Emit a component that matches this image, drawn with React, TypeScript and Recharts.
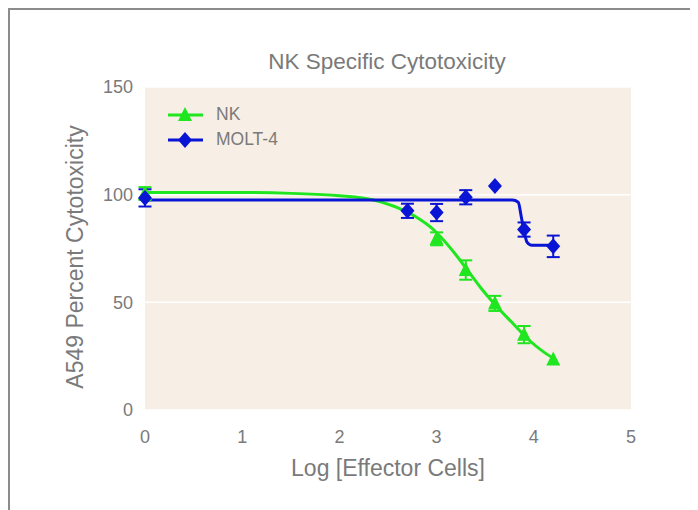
import React from "react";
import { ComposedChart, Line, Scatter, ErrorBar, XAxis, YAxis, CartesianGrid } from "recharts";

// Measured points (log effector cells, % cytotoxicity, error)
const nkPoints = [
  { x: 0, y: 100.5, err: 3 },
  { x: 3.0, y: 79.5, err: 3 },
  { x: 3.3, y: 65, err: 4.5 },
  { x: 3.6, y: 49.5, err: 3.5 },
  { x: 3.9, y: 35, err: 4 },
  { x: 4.2, y: 23.5, err: 0 },
];
const moltPoints = [
  { x: 0, y: 98.5, err: 4 },
  { x: 2.7, y: 92.5, err: 3.3 },
  { x: 3.0, y: 91.7, err: 4 },
  { x: 3.3, y: 98.8, err: 3.3 },
  { x: 3.6, y: 104, err: 0 },
  { x: 3.9, y: 83.8, err: 3.3 },
  { x: 4.2, y: 76, err: 5 },
];
// Fitted curves
const nkCurve = [
  { x: 0, y: 101 }, { x: 0.5, y: 101 }, { x: 1, y: 101 }, { x: 1.5, y: 100.6 },
  { x: 2, y: 99.5 }, { x: 2.35, y: 97.5 }, { x: 2.62, y: 93.5 }, { x: 2.83, y: 88.5 },
  { x: 2.95, y: 84.5 }, { x: 3.05, y: 80 }, { x: 3.2, y: 72 }, { x: 3.35, y: 63 },
  { x: 3.45, y: 57 }, { x: 3.6, y: 49 }, { x: 3.8, y: 39.5 }, { x: 3.95, y: 32.5 },
  { x: 4.1, y: 27 }, { x: 4.22, y: 23.5 },
];
const moltCurve = [
  { x: 0, y: 97.5 }, { x: 3.78, y: 97.5 }, { x: 3.84, y: 96.5 }, { x: 3.87, y: 90 },
  { x: 3.9, y: 83 }, { x: 3.93, y: 78 }, { x: 3.98, y: 76.5 }, { x: 4.22, y: 76.5 },
];
const xTicks = [0, 1, 2, 3, 4, 5];
const yTicks = [0, 50, 100, 150];
const legendItems = [
  { name: "NK", color: "#1fe61f", shape: "triangle" },
  { name: "MOLT-4", color: "#0a14d4", shape: "diamond" },
];

const GREEN = "#1fe61f";
const BLUE = "#0a14d4";
const GRAY = "#7a7a7a";
const FONT = "Liberation Sans, Arial, sans-serif";

const Triangle = (props: any) => {
  const { cx, cy, fill } = props;
  return <polygon points={`${cx},${cy - 8} ${cx + 7},${cy + 6} ${cx - 7},${cy + 6}`} fill={fill} />;
};
const Diamond = (props: any) => {
  const { cx, cy, fill } = props;
  return <polygon points={`${cx},${cy - 8} ${cx + 7},${cy} ${cx},${cy + 8} ${cx - 7},${cy}`} fill={fill} />;
};

const LegendBox = () => (
  <div style={{ position: "absolute", left: 158, top: 92, fontFamily: FONT, fontSize: 17.5, color: GRAY }}>
    {legendItems.map((it) => (
      <div key={it.name} style={{ display: "flex", alignItems: "center", height: 25 }}>
        <svg width={48} height={20}>
          <line x1={0} y1={10} x2={35} y2={10} stroke={it.color} strokeWidth={3} />
          {it.shape === "triangle" ? (
            <polygon points="17,2 24,16 10,16" fill={it.color} />
          ) : (
            <polygon points="17,2 24,10 17,18 10,10" fill={it.color} />
          )}
        </svg>
        <span>{it.name}</span>
      </div>
    ))}
  </div>
);

export default function App() {
  return (
    <div style={{ position: "relative", width: 680, height: 520, border: "2px solid #8c8c8c", borderBottom: "none" }}>
      <div
        style={{
          position: "absolute", left: 0, width: 754, top: 39, textAlign: "center",
          fontFamily: FONT, fontSize: 22.5, color: GRAY,
        }}
      >
        NK Specific Cytotoxicity
      </div>
      <ComposedChart width={680} height={498} margin={{ top: 77, right: 59, bottom: 68, left: 75 }}>
        <CartesianGrid vertical={false} stroke="#ffffff" strokeWidth={1.5} fill="#f7efe5" />
        <XAxis
          type="number" dataKey="x" domain={[0, 5]} ticks={xTicks} axisLine={false} tickLine={false}
          tick={{ fill: GRAY, fontSize: 18, fontFamily: FONT }} tickMargin={14} height={30}
          label={{ value: "Log [Effector Cells]", position: "bottom", offset: 20, fill: GRAY, fontSize: 23, fontFamily: FONT }}
        />
        <YAxis
          type="number" dataKey="y" domain={[0, 150]} ticks={yTicks} axisLine={false} tickLine={false}
          tick={{ fill: GRAY, fontSize: 18, fontFamily: FONT }} width={60} tickMargin={6}
        />
        <Line data={nkCurve} dataKey="y" type="monotone" stroke={GREEN} strokeWidth={3} dot={false} isAnimationActive={false} />
        <Line data={moltCurve} dataKey="y" type="monotone" stroke={BLUE} strokeWidth={3} dot={false} isAnimationActive={false} />
        <Scatter data={nkPoints} dataKey="y" fill={GREEN} shape={<Triangle />} isAnimationActive={false}>
          <ErrorBar dataKey="err" direction="y" width={6.5} stroke={GREEN} strokeWidth={2} />
        </Scatter>
        <Scatter data={moltPoints} dataKey="y" fill={BLUE} shape={<Diamond />} isAnimationActive={false}>
          <ErrorBar dataKey="err" direction="y" width={6.5} stroke={BLUE} strokeWidth={2} />
        </Scatter>
      </ComposedChart>
      <svg width={130} height={498} style={{ position: "absolute", left: 0, top: 0, pointerEvents: "none" }}>
        <text
          x={65} y={247} transform="rotate(-90, 65, 247)" textAnchor="middle" dominantBaseline="central"
          fill={GRAY} fontSize={23} fontFamily={FONT}
        >
          A549 Percent Cytotoxicity
        </text>
      </svg>
      <LegendBox />
    </div>
  );
}
